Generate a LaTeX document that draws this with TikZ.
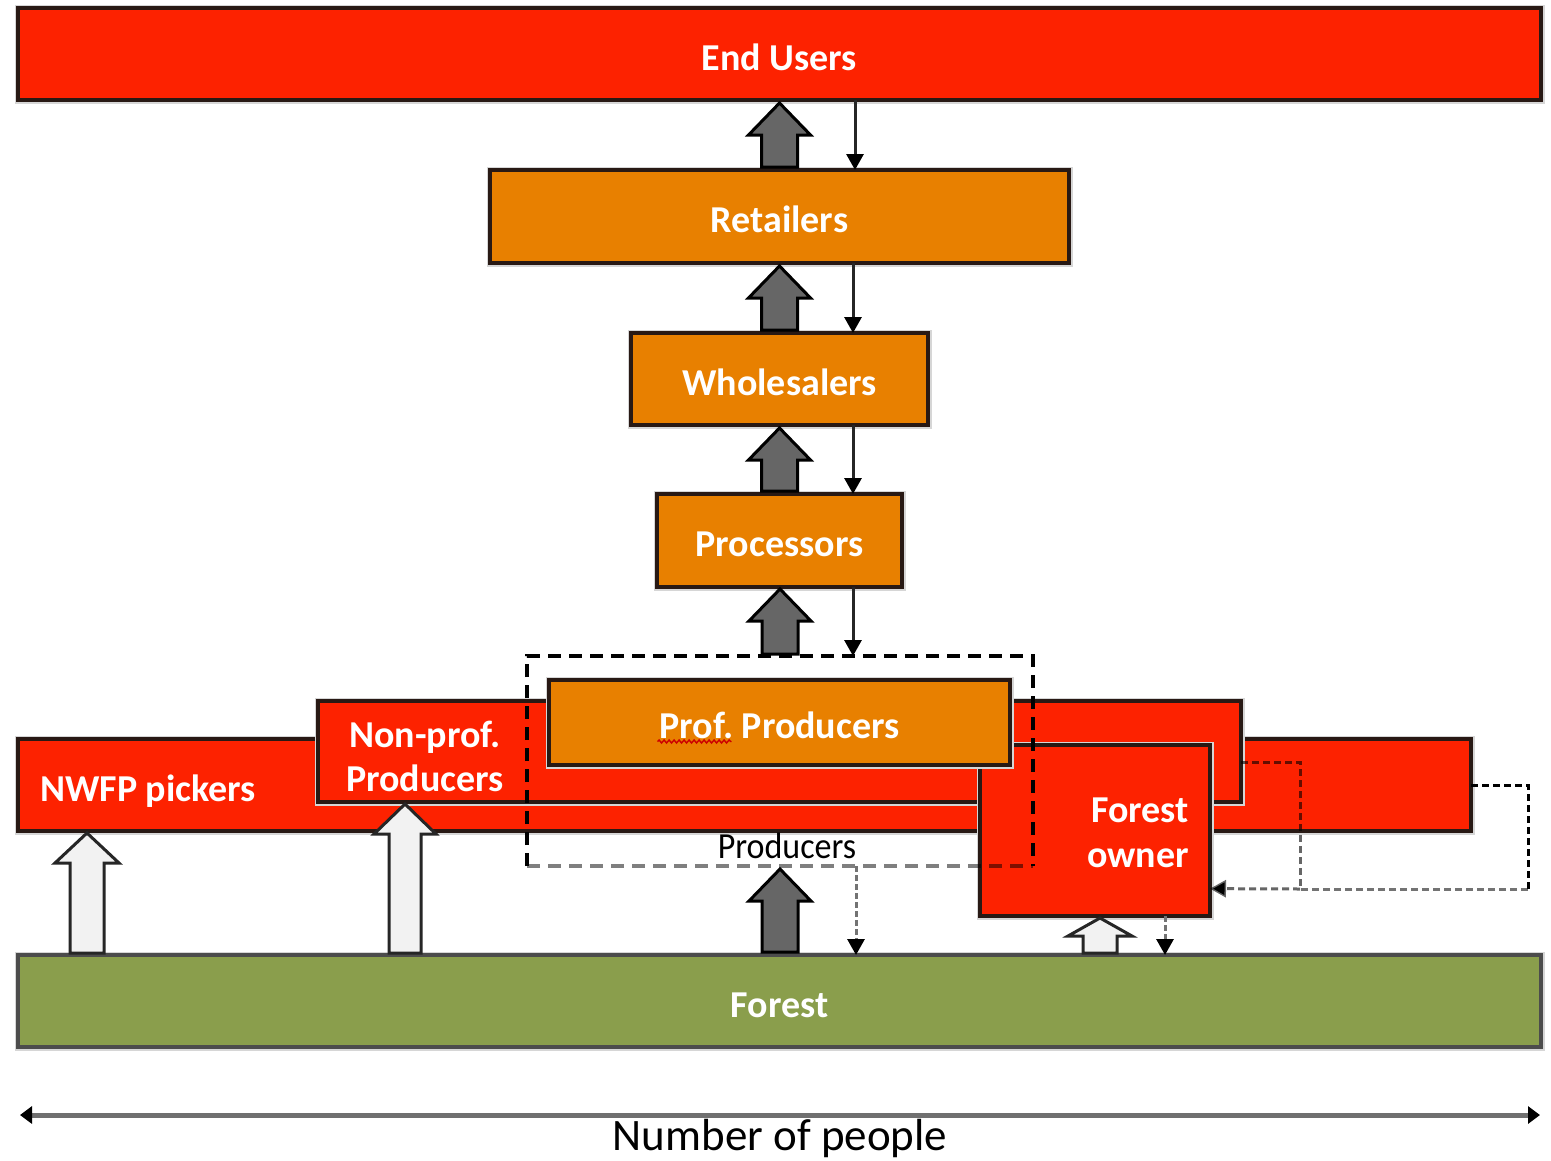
\documentclass[tikz,border=0pt]{standalone}
\usepackage{fontspec}
\setmainfont{Carlito}
\usetikzlibrary{arrows.meta,calc,decorations.pathmorphing}

\definecolor{boxred}{RGB}{253,34,0}
\definecolor{boxorange}{RGB}{232,128,0}
\definecolor{boxgreen}{RGB}{138,158,76}
\definecolor{edgec}{RGB}{40,25,20}
\definecolor{arrowgray}{RGB}{102,102,102}
\definecolor{arrowwhite}{RGB}{242,242,242}
\definecolor{axisgray}{RGB}{112,112,112}

\frenchspacing
\newcommand\boxfont{\bfseries\fontsize{38}{44}\selectfont}

% Vertical block arrow: style, x, bottom anchor, top anchor, gap,
% head half-width, shaft half-width, head length
\newcommand\fatup[8]{%
  \draw[#1] let \p1=(#3), \p2=(#4) in
    (#2pt-#7pt,\y1+#5pt) -- (#2pt-#7pt,\y2-#5pt-#8pt) -- (#2pt-#6pt,\y2-#5pt-#8pt)
    -- (#2pt,\y2-#5pt) -- (#2pt+#6pt,\y2-#5pt-#8pt) -- (#2pt+#7pt,\y2-#5pt-#8pt)
    -- (#2pt+#7pt,\y1+#5pt) -- cycle;}

\begin{document}
\begin{tikzpicture}[x=1pt,y=-1pt,
  box/.style={draw=edgec, line width=3.2pt, preaction={draw=black!16, line width=7pt},
    inner sep=0pt, outer sep=0pt, font=\boxfont, text=white},
  onebox/.style={box, text height=40pt, text depth=8pt},
  redbox/.style={box, fill=boxred},
  orangebox/.style={onebox, fill=boxorange},
  greenbox/.style={onebox, fill=boxgreen, draw=black!70},
  boxtext/.style={font=\boxfont, text=white, inner sep=0pt},
  fatdark/.style={fill=arrowgray, draw=black, line width=3pt, line join=miter},
  fatwhite/.style={fill=arrowwhite, draw=black!85, line width=3pt, line join=miter},
  thinarr/.style={draw=black!85, line width=3pt, -{Triangle[width=17pt,length=16pt,color=black]}},
  droparr/.style={thinarr, draw=black!55, dash pattern=on 6pt off 3pt},
  linkdash/.style={line width=3pt, dash pattern=on 7pt off 4pt},
  boxdash/.style={line width=3.2pt, dash pattern=on 13pt off 8pt}
]
\useasboundingbox (0,0) rectangle (1551,1160);
\fill[white] (0,0) rectangle (1551,1160);

% Chain of trade
\node[redbox, onebox, minimum width=1523pt, minimum height=92pt] (eu) at (779.5,54) {End Users};
\node[orangebox, minimum width=579pt, minimum height=93pt] (ret) at (779.5,216.5) {Retailers};
\node[orangebox, minimum width=297pt, minimum height=92pt] (ws) at (779.5,379) {Wholesalers};
\node[orangebox, minimum width=245pt, minimum height=93pt] (proc) at (779.5,540.5) {Processors};
\node[greenbox, minimum width=1523pt, minimum height=92pt] (forest) at (779.5,1001) {Forest};

% Producer layers
\node[redbox, minimum width=1453pt, minimum height=92pt] (nw) at (744.5,785) {};
\node[boxtext, anchor=base west] (nwt) at (40,801) {NWFP pickers};
\node[redbox, minimum width=923pt, minimum height=101pt] (np) at (779.5,751.5) {};
\node[boxtext, align=center] (npt) at (425,756) {Non-prof.\\Producers};
\node[redbox, minimum width=230pt, minimum height=171pt] (fo) at (1095,830.5) {};
\node[boxtext, align=right, anchor=east, font=\bfseries\fontsize{38}{45}\selectfont] (fot) at (1189,833) {Forest\\owner};
\node[orangebox, minimum width=461pt, minimum height=85pt] (pp) at (779.5,722.5) {Prof. Producers};
\draw[red!80!black, line width=1.4pt, decorate, decoration={snake, amplitude=1.5pt, segment length=5pt}]
  ([xshift=-122pt,yshift=-19pt]pp.center) -- ([xshift=-48pt,yshift=-19pt]pp.center);

% Producers group
\node[minimum width=506pt, minimum height=210pt, inner sep=0pt, outer sep=0pt] (pb) at (780,761) {};
\draw[boxdash] (pb.south west) -- (pb.north west) -- (pb.north east) -- (pb.south east);
\draw[boxdash, draw=black, draw opacity=0.5] (pb.south west) -- (pb.south east);
\node[font=\fontsize{34}{38}\selectfont, inner sep=0pt, yscale=1.08] (pbl) at (787,846) {Producers};

% Block arrows
\fatup{fatdark}{779.5}{ret.north}{eu.south}{3}{31}{18}{32}
\fatup{fatdark}{779.5}{ws.north}{ret.south}{3}{31}{18}{32}
\fatup{fatdark}{779.5}{proc.north}{ws.south}{3}{31}{18}{32}
\fatup{fatdark}{780}{pb.north}{proc.south}{2}{31}{18}{32}
\fatup{fatdark}{780}{forest.north}{pb.south}{3}{31}{18}{32}
\fatup{fatwhite}{87}{forest.north}{nw.south}{2}{32}{17}{30}
\fatup{fatwhite}{405}{forest.north}{np.south}{2}{31}{16}{30}
\fatup{fatwhite}{1100}{forest.north}{fo.south}{2}{32}{17}{18}

% Downward flows
\draw[thinarr] ([xshift=75.5pt]eu.south) -- ([xshift=75.5pt]ret.north);
\draw[thinarr] ([xshift=73.5pt]ret.south) -- ([xshift=73.5pt]ws.north);
\draw[thinarr] ([xshift=73.5pt]ws.south) -- ([xshift=73.5pt]proc.north);
\draw[thinarr] ([xshift=73.5pt]proc.south) -- ([xshift=73pt]pb.north);
\coordinate (pbdrop) at ([xshift=76pt]pb.south);
\draw[droparr] (pbdrop) -- (pbdrop |- forest.north);
\coordinate (fodrop) at ([xshift=70pt]fo.south);
\draw[droparr] (fodrop) -- (fodrop |- forest.north);

% Links back to the forest owner
\coordinate (npout) at ([yshift=-10.5pt]np.east);
\coordinate (foin) at ($(fo.north east)!0.84!(fo.south east)$);
\coordinate (jn) at (1300,889);
\coordinate (cr) at (1528,889);
\draw[linkdash, draw=black, draw opacity=0.6] (npout) -| (jn);
\draw[linkdash, draw=black] (nw.east) -| (cr);
\draw[linkdash, draw=black, draw opacity=0.55] (cr) -- (jn);
\draw[linkdash, draw=black, draw opacity=0.6, -{Triangle[width=17pt,length=16pt,color=black]}] (jn) -- (foin);

% Axis
\coordinate (axl) at (20,1115);
\coordinate (axr) at (1540,1115);
\draw[line width=5pt, draw=axisgray, {Triangle[width=17pt,length=12pt,color=black]}-{Triangle[width=17pt,length=12pt,color=black]}] (axl) -- (axr);
\node[font=\fontsize{45}{50}\selectfont, inner sep=0pt, anchor=base] (axt) at (780,1150) {Number of people};
\end{tikzpicture}
\end{document}
